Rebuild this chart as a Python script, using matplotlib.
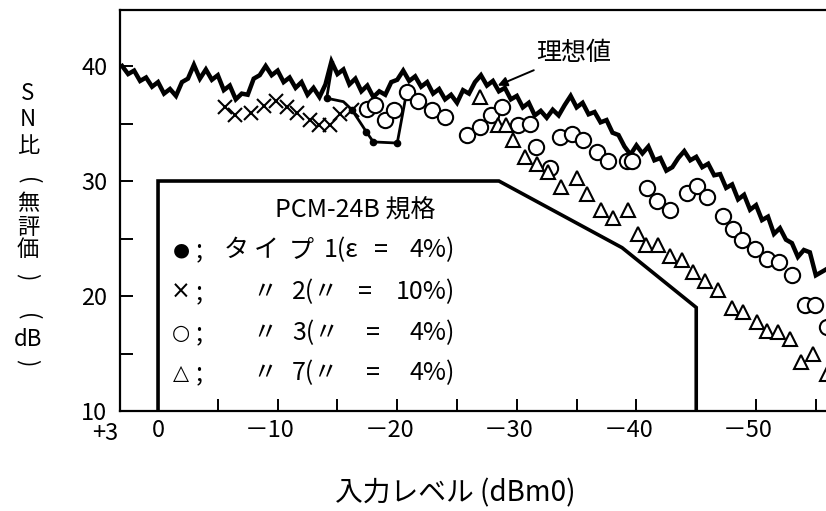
import matplotlib.pyplot as plt
from matplotlib.transforms import ScaledTranslation

plt.rcParams['font.family'] = ['Noto Sans CJK JP', 'DejaVu Sans']

# ideal S/N curve (理想値)
ideal_x = [3.0, 2.5, 2.0, 1.5, 1.0, 0.5, 0.0, -0.5, -1.0, -1.5,
           -2.0, -2.5, -3.0, -3.5, -4.0, -4.5, -5.0, -5.5, -6.0, -6.5,
           -7.0, -7.5, -8.0, -8.5, -9.0, -9.5, -10.0, -10.5, -11.0, -11.5,
           -12.0, -12.5, -13.0, -13.5, -14.0, -14.5, -15.0, -15.5, -16.0, -16.5,
           -17.0, -17.5, -18.0, -18.5, -19.0, -19.5, -20.0, -20.5, -21.0, -21.5,
           -22.0, -22.5, -23.0, -23.5, -24.0, -24.5, -25.0, -25.5, -26.0, -26.5,
           -27.0, -27.5, -28.0, -28.5, -29.0, -29.5, -30.0, -30.5, -31.0, -31.5,
           -32.0, -32.5, -33.0, -33.5, -34.0, -34.5, -35.0, -35.5, -36.0, -36.5,
           -37.0, -37.5, -38.0, -38.5, -39.0, -39.5, -40.0, -40.5, -41.0, -41.5,
           -42.0, -42.5, -43.0, -43.5, -44.0, -44.5, -45.0, -45.5, -46.0, -46.5,
           -47.0, -47.5, -48.0, -48.5, -49.0, -49.5, -50.0, -50.5, -51.0, -51.5,
           -52.0, -52.5, -53.0, -53.5, -54.0, -54.5, -55.0, -55.5, -56.0]
ideal_y = [40.0, 39.3, 39.6, 38.7, 39.0, 38.2, 38.6, 37.6, 38.0, 37.4,
           38.6, 38.9, 40.1, 38.9, 39.7, 38.8, 39.2, 37.9, 38.3, 37.1,
           37.6, 37.5, 38.9, 39.2, 40.0, 39.2, 39.6, 38.6, 39.0, 38.1,
           38.6, 37.5, 38.1, 37.3, 38.4, 40.4, 39.3, 39.7, 38.4, 38.9,
           37.8, 38.3, 37.3, 37.8, 37.5, 38.6, 38.8, 39.6, 38.7, 39.1,
           38.2, 38.6, 37.6, 38.0, 37.1, 37.5, 36.8, 37.9, 37.6, 38.6,
           39.2, 38.3, 38.7, 37.8, 38.1, 37.1, 37.4, 36.4, 36.8, 35.7,
           36.1, 35.5, 36.2, 35.7, 36.6, 37.4, 36.4, 36.8, 35.8, 36.0,
           35.1, 35.3, 34.2, 34.0, 33.0, 32.3, 33.1, 32.4, 33.0, 31.8,
           32.0, 30.9, 31.2, 32.0, 32.6, 31.8, 32.1, 31.2, 31.5, 30.5,
           30.6, 29.4, 29.7, 28.4, 28.8, 27.5, 27.9, 26.6, 26.9, 25.4,
           25.9, 24.9, 24.6, 23.4, 24.0, 23.8, 21.8, 22.1, 22.4]

# type 1 (eps = 4%)
t1_x = [-14.6, -14.1, -15.5, -16.2, -16.9, -17.4, -18.0, -20.0, -20.8]
t1_y = [40.3, 37.2, 36.9, 36.2, 35.1, 34.3, 33.4, 33.3, 37.8]

# type 2 (eps = 10%)
t2_x = [-5.6, -6.4, -7.8, -8.9, -9.9, -10.8, -11.6, -12.7, -13.5, -14.4, -15.2, -16.2]
t2_y = [36.4, 35.7, 35.9, 36.5, 37.0, 36.4, 35.9, 35.3, 34.9, 34.9, 35.8, 36.2]

# type 3 (eps = 4%)
t3_x = [-17.5, -18.1, -19.0, -19.7, -20.8, -21.7, -22.9, -24.0, -25.8, -26.9,
        -27.8, -28.8, -30.1, -31.1, -31.6, -32.8, -33.6, -34.6, -35.5, -36.7,
        -37.6, -39.2, -39.6, -40.9, -41.7, -42.8, -44.2, -45.1, -45.9, -47.2,
        -48.1, -48.8, -49.9, -50.9, -51.9, -53.0, -54.1, -54.9, -55.9]
t3_y = [36.3, 36.6, 35.3, 36.2, 37.7, 37.0, 36.2, 35.6, 34.0, 34.7,
        35.7, 36.4, 34.9, 35.0, 33.0, 31.1, 33.8, 34.1, 33.6, 32.5,
        31.7, 31.7, 31.7, 29.4, 28.3, 27.5, 29.0, 29.6, 28.6, 27.0,
        25.8, 24.9, 24.1, 23.2, 23.0, 21.8, 19.2, 19.2, 17.3]

# type 7 (eps = 4%)
t7_x = [-26.9, -28.4, -29.1, -29.7, -30.7, -31.7, -32.6, -33.7, -35.0, -35.9,
        -37.0, -38.0, -39.3, -40.1, -40.8, -41.8, -42.8, -43.8, -44.7, -45.7,
        -46.8, -48.0, -48.9, -50.1, -50.9, -51.8, -52.8, -53.8, -54.8, -55.9]
t7_y = [37.3, 34.9, 34.9, 33.6, 32.1, 31.5, 30.8, 29.5, 30.3, 28.9,
        27.5, 26.8, 27.5, 25.4, 24.4, 24.4, 23.5, 23.1, 22.1, 21.3,
        20.5, 19.0, 18.6, 17.7, 17.0, 16.9, 16.3, 14.3, 15.0, 13.2]

# PCM-24B spec limit
spec_x = [0, 0, -28.5, -38.8, -45, -45]
spec_y = [10, 30, 30, 24.2, 19, 10]

xticks = [0, -5, -10, -15, -20, -25, -30, -35, -40, -45, -50, -55]
xtick_labels = ['0', '', '－10', '', '－20', '', '－30', '', '－40', '', '－50', '']
yticks = [10, 15, 20, 25, 30, 35, 40]
ytick_labels = ['10', '', '20', '', '30', '', '40']

W, H = 826, 511


def fpos(x, y):
    return x / W, 1 - y / H


fig = plt.figure(figsize=(W / 100, H / 100), dpi=100)
ax = fig.add_axes([120 / W, 1 - 411 / H, 1 - 120 / W, 401 / H])

ax.plot(ideal_x, ideal_y, color='black', lw=3.2, solid_joinstyle='miter')
ax.plot(t1_x, t1_y, color='black', lw=2.0, marker='o', ms=4.5,
        markevery=[1, 3, 5, 6, 7])
ax.plot(t2_x, t2_y, ls='none', marker='x', ms=10, mew=1.5, color='black')
ax.plot(t3_x, t3_y, ls='none', marker='o', ms=11, mew=1.5,
        mfc='white', mec='black')
ax.plot(t7_x, t7_y, ls='none', marker='^', ms=10, mew=1.5,
        mfc='white', mec='black')
ax.plot(spec_x, spec_y, color='black', lw=2.6, solid_joinstyle='miter')

ax.set_xlim(3.18, -55.85)
ax.set_ylim(10, 44.87)

for s in ['left', 'top', 'bottom']:
    ax.spines[s].set_linewidth(1.6)
ax.spines['right'].set_visible(False)

ax.set_xticks(xticks)
ax.set_xticklabels(xtick_labels, fontsize=17)
ax.set_yticks(yticks)
ax.set_yticklabels(ytick_labels, fontsize=17)
ax.tick_params(axis='both', direction='in', length=9, width=1.4)
ax.tick_params(axis='x', pad=6)
ax.tick_params(axis='y', pad=9)
# hang the minus sign to the left of the tick
for lab in ax.get_xticklabels():
    if lab.get_text().startswith('－'):
        lab.set_transform(lab.get_transform() +
                          ScaledTranslation(-8 / 100, 0, fig.dpi_scale_trans))
fig.text(*fpos(105, 433), '+3', ha='center', va='center', fontsize=17)

# legend block inside the spec box
txt = dict(fontsize=18, va='center')
fig.text(*fpos(355, 210), 'PCM-24B 規格', ha='center', **txt)
rows = [('●', 14, '1(ε', '4%)', 381, 250),
        ('×', 17, '2(〃', '10%)', 365, 292),
        ('○', 15, '3(〃', '4%)', 373, 333),
        ('△', 15, '7(〃', '4%)', 373, 373)]
for mark, msize, num, pct, eq_x, y in rows:
    fig.text(*fpos(181, y), mark, ha='center', fontsize=msize, va='center',
             family='DejaVu Sans')
    fig.text(*fpos(199, y), ';', ha='center', **txt)
    if num.startswith('1'):
        for ch, cx in [('タ', 236), ('イ', 266), ('プ', 301)]:
            fig.text(*fpos(cx, y), ch, ha='center', **txt)
        fig.text(*fpos(324, y), num, ha='left', **txt)
    else:
        fig.text(*fpos(265, y), '〃', ha='center', **txt)
        fig.text(*fpos(292, y), num, ha='left', **txt)
    fig.text(*fpos(eq_x, y), '=', ha='center', **txt)
    fig.text(*fpos(455, y), pct, ha='right', **txt)

ax.annotate('理想値', xy=(-28.4, 38.3), xytext=(-31.6, 41.1),
            fontsize=18, ha='left', va='center',
            arrowprops=dict(arrowstyle='-|>', color='black', lw=1.4,
                            mutation_scale=14, shrinkA=2, shrinkB=0))

# stacked vertical y-axis title
ylab = [('S', 93, 0), ('N', 120, 0), ('比', 146, 0), ('(', 181, -90),
        ('無', 204, 0), ('評', 227, 0), ('価', 250, 0), (')', 277, -90),
        ('(', 317, -90), ('dB', 340, 0), (')', 363, -90)]
for ch, y, rot in ylab:
    fig.text(*fpos(28, y), ch, ha='center', va='center', fontsize=16,
             rotation=rot, rotation_mode='anchor')

fig.text(*fpos(455, 493), '入力レベル (dBm0)', ha='center', va='center', fontsize=20)

fig.savefig('out.png', dpi=100)
